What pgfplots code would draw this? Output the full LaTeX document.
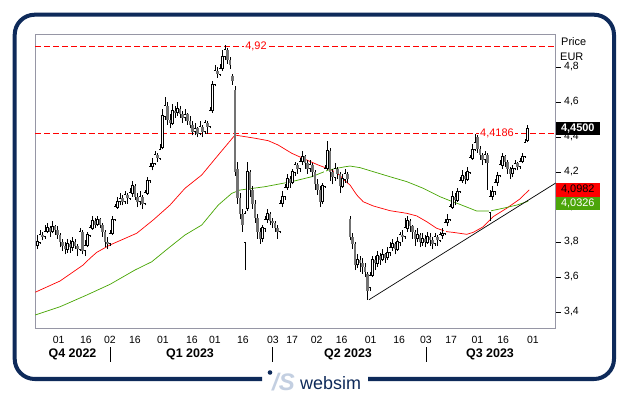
\documentclass[border=0pt]{standalone}
\usepackage{pgfplots}
\pgfplotsset{compat=1.18}
\usepackage{pgfplotstable}
\usepackage{fontspec}
\setmainfont{Liberation Sans}
\definecolor{navy}{RGB}{14,42,90}
\definecolor{mared}{RGB}{255,0,0}
\definecolor{magreen}{RGB}{70,165,0}
\definecolor{boxgreen}{RGB}{76,165,10}
\definecolor{downgray}{RGB}{115,115,115}
\definecolor{framegray}{RGB}{150,150,165}
\definecolor{logolight}{RGB}{195,207,225}

\pgfplotstableread{
i o h l c
1 3.78 3.84 3.76 3.80
2 3.80 3.87 3.79 3.84
3 3.84 3.86 3.81 3.83
4 3.83 3.90 3.82 3.86
5 3.86 3.91 3.85 3.88
6 3.88 3.89 3.83 3.86
7 3.86 3.92 3.85 3.89
8 3.89 3.90 3.84 3.87
9 3.87 3.89 3.82 3.84
10 3.84 3.85 3.77 3.80
11 3.80 3.82 3.75 3.78
12 3.78 3.80 3.73 3.76
13 3.76 3.82 3.74 3.79
14 3.79 3.81 3.74 3.77
15 3.77 3.83 3.75 3.80
16 3.80 3.82 3.76 3.78
17 3.78 3.79 3.72 3.76
18 3.76 3.88 3.75 3.86
19 3.86 3.87 3.73 3.75
20 3.75 3.81 3.72 3.78
21 3.78 3.86 3.77 3.84
22 3.84 3.90 3.83 3.88
23 3.88 3.95 3.87 3.92
24 3.92 3.94 3.88 3.90
25 3.90 3.95 3.89 3.93
26 3.93 3.94 3.88 3.90
27 3.90 3.91 3.83 3.86
28 3.86 3.87 3.77 3.80
29 3.80 3.83 3.76 3.79
30 3.79 3.87 3.78 3.85
31 3.85 3.95 3.84 3.93
32 3.93 4.02 3.92 4.00
33 4.00 4.06 3.99 4.03
34 4.03 4.08 4.01 4.05
35 4.05 4.07 4.01 4.03
36 4.03 4.09 4.02 4.07
37 4.07 4.08 4.02 4.05
38 4.05 4.11 4.04 4.08
39 4.08 4.15 4.06 4.12
40 4.12 4.13 4.04 4.06
41 4.06 4.08 4.00 4.03
42 4.03 4.09 4.01 4.06
43 4.06 4.07 3.99 4.02
44 4.02 4.10 4.01 4.08
45 4.08 4.17 4.07 4.15
46 4.15 4.25 4.14 4.23
47 4.23 4.28 4.21 4.25
48 4.25 4.32 4.24 4.30
49 4.30 4.31 4.26 4.28
50 4.28 4.36 4.27 4.33
51 4.34 4.56 4.33 4.52
52 4.52 4.63 4.50 4.58
53 4.58 4.60 4.47 4.50
54 4.50 4.53 4.45 4.48
55 4.48 4.59 4.47 4.55
56 4.55 4.58 4.51 4.54
57 4.54 4.60 4.52 4.56
58 4.56 4.58 4.51 4.53
59 4.53 4.55 4.48 4.51
60 4.51 4.56 4.49 4.53
61 4.53 4.54 4.47 4.49
62 4.49 4.52 4.45 4.47
63 4.47 4.49 4.41 4.43
64 4.43 4.48 4.41 4.45
65 4.45 4.46 4.40 4.42
66 4.42 4.49 4.41 4.46
67 4.46 4.47 4.40 4.43
68 4.43 4.50 4.42 4.48
69 4.48 4.49 4.42 4.46
70 4.46 4.57 4.45 4.55
71 4.55 4.72 4.54 4.70
72 4.70 4.81 4.69 4.78
73 4.78 4.80 4.74 4.76
74 4.76 4.82 4.75 4.79
75 4.79 4.90 4.78 4.86
76 4.86 4.925 4.84 4.90
77 4.90 4.91 4.82 4.84
78 4.84 4.86 4.79 4.81
79 4.75 4.76 4.70 4.72
80 4.67 4.69 4.18 4.20
81 4.22 4.26 4.02 4.05
82 4.05 4.08 3.93 3.96
83 3.96 3.99 3.86 3.90
84 3.80 3.98 3.64 3.96
85 3.99 4.26 3.98 4.20
86 4.20 4.21 4.06 4.10
87 4.10 4.12 3.99 4.02
88 4.02 4.04 3.91 3.94
89 3.94 3.96 3.82 3.86
90 3.86 3.88 3.79 3.82
91 3.82 3.90 3.80 3.88
92 3.88 3.95 3.86 3.93
93 3.93 3.99 3.91 3.96
94 3.96 3.97 3.90 3.92
95 3.92 3.94 3.88 3.91
96 3.91 3.92 3.86 3.88
97 3.88 3.90 3.82 3.86
98 3.86 4.04 3.85 4.02
99 4.02 4.09 4.00 4.06
100 4.06 4.13 4.04 4.11
101 4.11 4.19 4.10 4.16
102 4.16 4.18 4.11 4.14
103 4.14 4.22 4.13 4.20
104 4.20 4.26 4.18 4.24
105 4.24 4.25 4.19 4.22
106 4.22 4.28 4.20 4.26
107 4.26 4.32 4.24 4.29
108 4.29 4.30 4.22 4.25
109 4.25 4.27 4.19 4.22
110 4.22 4.27 4.20 4.24
111 4.24 4.25 4.17 4.20
112 4.20 4.21 4.10 4.13
113 4.13 4.16 4.07 4.10
114 4.10 4.12 4.00 4.03
115 4.03 4.14 4.02 4.12
116 4.12 4.24 4.11 4.22
117 4.22 4.38 4.21 4.32
118 4.32 4.34 4.15 4.20
119 4.20 4.22 4.13 4.17
120 4.17 4.25 4.15 4.22
121 4.22 4.23 4.16 4.19
122 4.19 4.20 4.08 4.12
123 4.12 4.19 4.11 4.16
124 4.16 4.22 4.14 4.19
125 4.19 4.20 4.14 4.16
126 3.93 3.95 3.81 3.83
127 3.83 3.85 3.76 3.79
128 3.79 3.80 3.64 3.67
129 3.67 3.73 3.65 3.70
130 3.70 3.72 3.63 3.68
131 3.68 3.71 3.62 3.66
132 3.66 3.68 3.60 3.63
133 3.62 3.63 3.47 3.52
134 3.54 3.63 3.52 3.61
135 3.61 3.72 3.60 3.70
136 3.70 3.72 3.64 3.68
137 3.68 3.75 3.66 3.72
138 3.72 3.74 3.67 3.70
139 3.70 3.76 3.69 3.73
140 3.73 3.74 3.68 3.71
141 3.71 3.77 3.70 3.74
142 3.74 3.80 3.72 3.77
143 3.77 3.82 3.75 3.79
144 3.79 3.80 3.73 3.76
145 3.76 3.83 3.75 3.80
146 3.80 3.86 3.78 3.84
147 3.84 3.87 3.80 3.83
148 3.83 3.94 3.82 3.88
149 3.88 3.95 3.86 3.92
150 3.92 3.93 3.86 3.89
151 3.89 3.90 3.82 3.86
152 3.86 3.87 3.78 3.82
153 3.82 3.88 3.80 3.84
154 3.84 3.85 3.77 3.80
155 3.80 3.85 3.78 3.82
156 3.82 3.84 3.77 3.80
157 3.80 3.86 3.79 3.83
158 3.83 3.85 3.78 3.81
159 3.81 3.83 3.76 3.79
160 3.79 3.85 3.78 3.83
161 3.83 3.84 3.78 3.81
162 3.81 3.86 3.80 3.84
163 3.84 3.88 3.82 3.85
164 3.85 3.93 3.84 3.91
165 3.91 3.96 3.89 3.93
166 3.93 4.02 3.92 4.00
167 4.00 4.09 3.99 4.06
168 4.06 4.08 4.01 4.04
169 4.04 4.11 4.03 4.09
170 4.09 4.17 4.08 4.15
171 4.15 4.21 4.14 4.18
172 4.18 4.20 4.13 4.16
173 4.16 4.23 4.15 4.20
174 4.20 4.30 4.19 4.28
175 4.28 4.36 4.27 4.33
176 4.33 4.42 4.32 4.37
177 4.40 4.41 4.31 4.33
178 4.33 4.35 4.27 4.30
179 4.30 4.31 4.24 4.27
180 4.27 4.32 4.25 4.30
181 4.30 4.31 4.10 4.25
182 3.97 4.10 3.92 4.06
183 4.06 4.12 4.04 4.09
184 4.09 4.16 4.07 4.14
185 4.14 4.20 4.12 4.18
186 4.18 4.27 4.17 4.24
187 4.24 4.31 4.22 4.29
188 4.29 4.30 4.23 4.26
189 4.26 4.27 4.19 4.22
190 4.22 4.23 4.16 4.19
191 4.19 4.24 4.17 4.22
192 4.22 4.27 4.21 4.25
193 4.25 4.26 4.21 4.23
194 4.23 4.28 4.22 4.26
195 4.26 4.31 4.25 4.29
196 4.29 4.39 4.28 4.37
197 4.38 4.47 4.37 4.45
}\candles

\begin{document}
\begin{tikzpicture}
\path[use as bounding box, fill=white] (0bp,0bp) rectangle (629bp,395bp);
\begin{axis}[
  at={(35bp,67bp)}, anchor=south west, scale only axis,
  width=520.7bp, height=294bp,
  xmin=0, xmax=208.3, ymin=3.3086, ymax=4.9886,
  axis line style={draw=framegray, line width=0.8bp},
  xtick={9.5,20.4,30,40,51.2,62.8,72,83.2,95.2,102.9,112.7,122.7,134.3,145.7,156.4,166.5,177,187.3,199.2},
  xticklabels={01,16,02,16,01,16,01,16,03,17,02,16,01,16,03,17,01,16,01},
  xtick style={draw=none},
  ytick={3.4,3.6,3.8,4.0,4.2,4.4,4.6,4.8},
  ytick pos=right, yticklabel pos=right,
  tick align=outside, major tick length=5bp,
  ytick style={black, line width=0.8bp},
  /pgf/number format/assume math mode=true,
  ticklabel style={font=\fontsize{10.5}{12}\selectfont, text=black},
  yticklabel style={/pgf/number format/.cd, fixed, fixed zerofill, precision=1, use comma},
]
% moving averages
\addplot[mared, line width=0.7bp] coordinates {
(0.1,3.513) (10,3.577) (19.3,3.669) (22,3.707) (24.7,3.741) (30,3.783) (40.7,3.850) (47.3,3.926) (54,4.011) (60,4.107) (66.7,4.183) (73.3,4.297) (80,4.411) (88,4.393) (93.3,4.379) (97.3,4.354) (102.7,4.307) (108,4.273) (113.3,4.240) (118.7,4.211) (122,4.180) (124,4.150) (126,4.126) (128.7,4.069) (131.3,4.030) (135.3,4.006) (142,3.979) (148.7,3.964) (152.7,3.949) (156.7,3.916) (160.7,3.878) (164.7,3.859) (167.3,3.855) (172.7,3.844) (175.3,3.855) (179.3,3.887) (183.3,3.945) (188.7,3.993) (194,4.046) (197.7,4.098)
};
\addplot[magreen, line width=0.7bp] coordinates {
(0.1,3.383) (10,3.430) (20.7,3.497) (30,3.558) (40,3.640) (46.7,3.687) (53.3,3.764) (60,3.840) (66.7,3.897) (73.3,4.011) (78.7,4.078) (82,4.097) (92,4.116) (102.7,4.145) (110.7,4.173) (117.3,4.211) (124,4.230) (126,4.234) (130,4.225) (135.3,4.202) (142,4.173) (148.7,4.145) (155.3,4.107) (162,4.059) (166,4.036) (170,4.015) (176.7,3.977) (182,3.977) (187.3,3.993) (192.7,4.011) (197.3,4.033)
};
% horizontal levels
\addplot[mared, line width=0.8bp, dash pattern=on 6bp off 3bp] coordinates {(0,4.92) (208.3,4.92)};
\addplot[mared, line width=0.8bp, dash pattern=on 6bp off 3bp] coordinates {(0,4.4186) (208.3,4.4186)};
% trend line
\addplot[black, line width=0.7bp] coordinates {(133.6,3.47) (208.3,4.137)};
% wicks: from low up to high
\addplot[black, line width=0.7bp, forget plot, mark=none,
  quiver={u=0, v={\thisrow{h}-\thisrow{l}}}]
  table[x=i, y=l] {\candles};
% up bodies: black frame, white inside (zero length on down days)
\addplot[black, line width=2.8bp, forget plot, mark=none,
  quiver={u=0, v={(\thisrow{c}>=\thisrow{o})*(\thisrow{c}-\thisrow{o}+0.008)}}]
  table[x=i, y expr=\thisrow{o}-0.004] {\candles};
\addplot[white, line width=1.2bp, forget plot, mark=none,
  quiver={u=0, v={max(\thisrow{c}-\thisrow{o}-0.003,0)}}]
  table[x=i, y expr=\thisrow{o}+0.0015] {\candles};
% down bodies: from close up to open
\addplot[downgray, line width=2.8bp, forget plot, mark=none,
  quiver={u=0, v={(\thisrow{o}>\thisrow{c})*(\thisrow{o}-\thisrow{c})}}]
  table[x=i, y expr=\thisrow{c}] {\candles};
% level labels
\node[fill=white, text=mared, font=\fontsize{11}{12}\selectfont, inner sep=1.5bp] at (axis cs:88.4,4.92) {4,92};
\node[fill=white, text=mared, font=\fontsize{11}{12}\selectfont, inner sep=1.5bp] at (axis cs:184.8,4.4186) {4,4186};
\end{axis}
\begin{scope}[x=1bp,y=1bp]
% frame
\draw[navy, line width=4bp, rounded corners=20bp] (368,16) -- (614,16) -- (614,380.3) -- (14.7,380.3) -- (14.7,16) -- (262,16);
% logo
\fill[navy] (270,22.5) circle (2.3);
\node[anchor=base west, text=logolight, font=\fontsize{24}{24}\selectfont\bfseries\itshape, inner sep=0] at (272,5) {/S};
\node[anchor=base west, text=navy, font=\fontsize{18}{18}\selectfont, inner sep=0] at (300,6) {websim};
% quarter labels
\node[font=\fontsize{12.5}{14}\selectfont\bfseries] at (72.5,41) {Q4 2022};
\node[font=\fontsize{12.5}{14}\selectfont\bfseries] at (190,41) {Q1 2023};
\node[font=\fontsize{12.5}{14}\selectfont\bfseries] at (348,41) {Q2 2023};
\node[font=\fontsize{12.5}{14}\selectfont\bfseries] at (490,41) {Q3 2023};
\draw[black, line width=0.9bp] (110.3,33) -- (110.3,48);
\draw[black, line width=0.9bp] (272.3,33) -- (272.3,48);
\draw[black, line width=0.9bp] (426.3,33) -- (426.3,48);
% price boxes
\fill[black] (555.7,260) rectangle (600,273.3);
\node[text=white, font=\fontsize{11}{12}\selectfont\bfseries, inner sep=0] at (577.8,266.6) {4,4500};
\fill[mared] (555.7,198.4) rectangle (600,212.3);
\node[text=black, font=\fontsize{11}{12}\selectfont, inner sep=0] at (577.8,205.3) {4,0982};
\fill[boxgreen] (555.7,185) rectangle (600,198.4);
\node[text=white, font=\fontsize{11}{12}\selectfont, inner sep=0] at (577.8,191.7) {4,0326};
% unit labels
\node[anchor=west, font=\fontsize{11}{12}\selectfont, inner sep=0] at (561,353) {Price};
\node[anchor=west, font=\fontsize{11}{12}\selectfont, inner sep=0] at (560,338) {EUR};
\end{scope}
\end{tikzpicture}
\end{document}
